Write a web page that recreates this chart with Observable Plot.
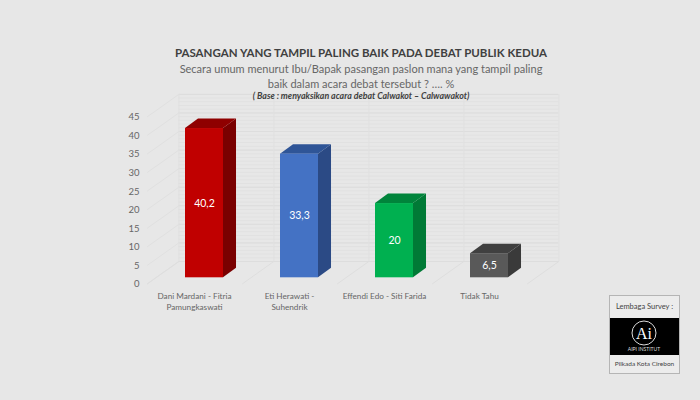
<!DOCTYPE html>
<html><head><meta charset="utf-8">
<script src="https://cdn.jsdelivr.net/npm/d3@7"></script>
<script src="https://cdn.jsdelivr.net/npm/@observablehq/plot@0.6"></script>
<style>
html,body{margin:0;padding:0;background:#e7e7e7;}
#page{position:relative;width:700px;height:400px;overflow:hidden;font-family:Lato,sans-serif;}
.t{position:absolute;left:61px;width:600px;text-align:center;white-space:nowrap;line-height:1;}
#box{position:absolute;left:609px;top:295px;width:71px;height:79px;border:1px solid #b5b5b5;box-sizing:border-box;background:#ececec;color:#444;font-size:7px;text-align:center;}
#box .a{height:22px;line-height:22px;font-size:7.5px;}
#box .b{height:37px;background:#000;}
#box .c{height:18px;line-height:18px;font-size:6.5px;}
</style></head><body>
<div id="page">
<div class="t" style="top:47px;font-size:11.5px;font-weight:700;color:#404040;">PASANGAN YANG TAMPIL PALING BAIK PADA DEBAT PUBLIK KEDUA</div>
<div class="t" style="top:63px;font-size:11px;color:#666;">Secara umum menurut Ibu/Bapak pasangan paslon mana yang tampil paling</div>
<div class="t" style="top:78px;font-size:11px;color:#666;">baik dalam acara debat tersebut ? …. %</div>
<div class="t" style="top:92px;font-size:8.8px;font-weight:700;font-style:italic;color:#404040;">( Base : menyaksikan acara debat Calwakot – Calwawakot)</div>
<div id="chart"></div>
<div id="box"><div class="a">Lembaga Survey :</div><div class="b">
<svg width="69" height="37" viewBox="0 0 69 37"><circle cx="34" cy="15" r="12" fill="none" stroke="#ddd" stroke-width="1"/><text x="34" y="21" fill="#fff" font-size="16" font-family="Liberation Serif" text-anchor="middle">Ai</text><text x="34" y="33" fill="#ddd" font-size="5" font-family="Lato" text-anchor="middle">AIPI INSTITUT</text></svg>
</div><div class="c">Pilkada Kota Cirebon</div></div>
</div>
<script>
const categories = ["Dani Mardani - Fitria\nPamungkaswati", "Eti Herawati -\nSuhendrik", "Effendi Edo - Siti Farida", "Tidak Tahu"];
const values = [40.2, 33.3, 20, 6.5];
const labels = ["40,2", "33,3", "20", "6,5"];
const frontColors = ["#c00000", "#4472c4", "#00b050", "#595959"];
const topColors = ["#8f0000", "#2f5597", "#00843b", "#404040"];
const sideColors = ["#7a0000", "#2b4a85", "#007a36", "#3a3a3a"];
const yTicks = [0, 5, 10, 15, 20, 25, 30, 35, 40, 45];
const minorTicks = d3.range(0, 45.01, 1);
const wallVerticals = [-0.5, 0.5, 1.5, 2.5, 3.5];

// bar shape, in data units of the chart's scales
const half = 0.2, depthX = 0.137, depthY = 2.56;
// wall geometry: back plane and front plane offsets in data units
const backY = 4.4, frontX = -0.33, frontY = -1.6, wallLeft = -0.27, wallRight = 3.73;

const rows = values.map((v, i) => ({i, v, label: labels[i], front: frontColors[i], top: topColors[i], side: sideColors[i]}));
const sidePts = rows.flatMap(r => [
  {z: r.i, x: r.i + half, y1: 0, y2: r.v, fill: r.side},
  {z: r.i, x: r.i + half + depthX, y1: depthY, y2: r.v + depthY, fill: r.side}
]);
const topPts = rows.flatMap(r => [
  {z: r.i, x: r.i - half, y1: r.v, y2: r.v, fill: r.top},
  {z: r.i, x: r.i - half + depthX, y1: r.v, y2: r.v + depthY, fill: r.top},
  {z: r.i, x: r.i + half, y1: r.v, y2: r.v + depthY, fill: r.top},
  {z: r.i, x: r.i + half + depthX, y1: r.v + depthY, y2: r.v + depthY, fill: r.top}
]);
const sideWall = yTicks.map(t => [
  {t, x: wallLeft, y: t + backY},
  {t, x: wallLeft + frontX, y: t + frontY}
]).flat();
const floorLines = wallVerticals.map((_, k) => [
  {k, x: wallLeft + k, y: backY},
  {k, x: wallLeft + k + frontX, y: frontY}
]).flat();

const chart = Plot.plot({
  width: 700, height: 400,
  marginLeft: 144, marginRight: 0, marginTop: 0, marginBottom: 109,
  style: {background: "transparent", fontFamily: "Lato, sans-serif"},
  x: {type: "linear", domain: [0, 3], range: [204, 489]},
  y: {type: "linear", domain: [0, 45], range: [277.3, 110.2]},
  marks: [
    // back wall
    Plot.ruleY(minorTicks, {y: d => d + backY, x1: wallLeft, x2: wallRight, stroke: "#e1e1e1", strokeWidth: 1}),
    Plot.ruleY(yTicks, {y: d => d + backY, x1: wallLeft, x2: wallRight, stroke: "#dddddd", strokeWidth: 1}),
    Plot.ruleX(wallVerticals.map((_, k) => wallLeft + k), {y1: backY, y2: 45 + backY, stroke: "#e0e0e0", strokeWidth: 1}),
    // side wall and floor
    Plot.line(sideWall, {x: "x", y: "y", z: "t", stroke: "#e0e0e0", strokeWidth: 1}),
    Plot.line(floorLines, {x: "x", y: "y", z: "k", stroke: "#dedede", strokeWidth: 1}),
    // bars
    Plot.areaY(sidePts, {x: "x", y1: "y1", y2: "y2", z: "z", fill: "fill"}),
    Plot.areaY(topPts, {x: "x", y1: "y1", y2: "y2", z: "z", fill: "fill"}),
    Plot.rect(rows, {x1: d => d.i - half, x2: d => d.i + half, y1: 0, y2: "v", fill: "front"}),
    Plot.text(rows, {x: "i", y: d => d.v / 2, text: "label", fill: "white", fontSize: 10.5}),
    // axes
    Plot.axisY({anchor: "left", ticks: yTicks, tickSize: 0, tickPadding: 5, dy: 6.5, fontSize: 9.5, color: "#666", label: null}),
    Plot.axisX({anchor: "bottom", ticks: [0, 1, 2, 3], tickSize: 0, tickPadding: 0, dx: -10, dy: 0, fontSize: 8.2, color: "#666", lineHeight: 1.35, tickFormat: i => categories[i], label: null, textAnchor: "middle", lineAnchor: "top"})
  ]
});
document.getElementById("chart").appendChild(chart);
</script>
</body></html>
